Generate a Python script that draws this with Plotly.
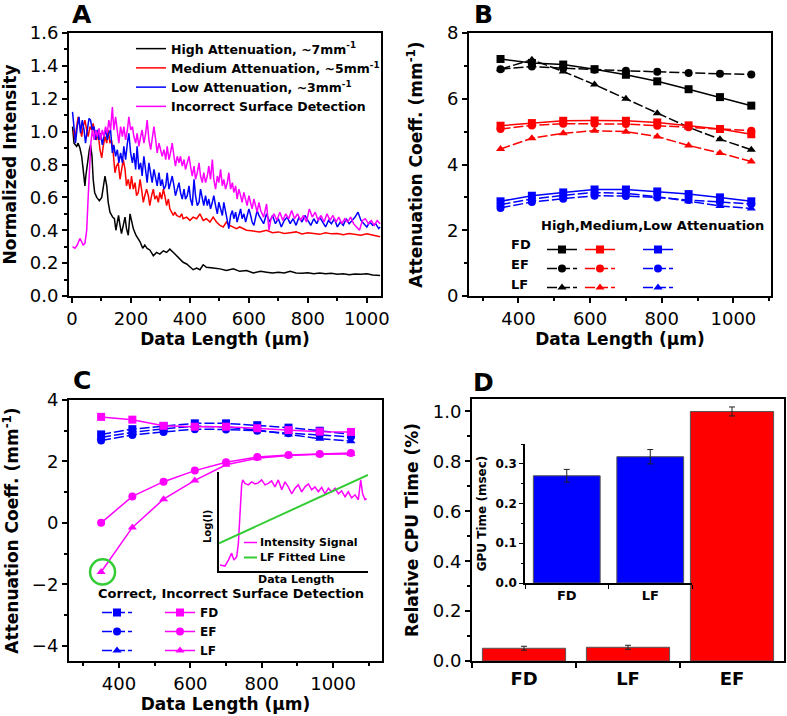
import plotly.graph_objects as go

FONT = "DejaVu Sans"
W, H = 787, 716

# ---------------- Panel A : normalized intensity profiles ----------------
a_high_x = [2, 7, 16, 21, 27, 33, 38, 44, 47, 52, 59, 63, 68, 72, 77, 84, 93, 101, 106, 112,
            118, 123, 129, 138, 144, 149, 154, 158, 163, 168, 174, 180, 185, 191, 197, 202, 208, 217, 225, 231,
            240, 247, 255, 264, 276, 287, 298, 310, 321, 332, 344, 355, 366, 377, 389, 400, 411, 423, 434, 445,
            456, 479, 502, 524, 547, 569, 592, 615, 640, 660, 680, 700, 720, 740, 760, 780, 800, 820,
            840, 860, 880, 900, 920, 940, 960, 980, 1000, 1020, 1045]
a_high_y = [1.03, 0.93, 0.91, 0.93, 0.90, 0.85, 0.77, 0.67, 0.73, 0.81, 0.89, 0.92, 0.85, 0.71, 0.63, 0.60, 0.58, 0.60, 0.65, 0.73,
            0.67, 0.57, 0.51, 0.48, 0.47, 0.40, 0.45, 0.49, 0.43, 0.38, 0.43, 0.48, 0.41, 0.37, 0.50, 0.46, 0.41, 0.37, 0.35, 0.33,
            0.29, 0.31, 0.29, 0.28, 0.245, 0.265, 0.255, 0.275, 0.265, 0.285, 0.265, 0.245, 0.225, 0.205, 0.195, 0.18, 0.16, 0.17, 0.16, 0.19,
            0.175, 0.17, 0.165, 0.155, 0.165, 0.15, 0.155, 0.14, 0.15, 0.145, 0.14, 0.145, 0.14, 0.15, 0.14, 0.138, 0.142, 0.136,
            0.14, 0.135, 0.138, 0.132, 0.136, 0.13, 0.134, 0.132, 0.135, 0.128, 0.125]

a_med_x = [5, 10, 16, 21, 27, 33, 38, 44, 50, 55, 61, 67, 72, 78, 84, 89, 95, 101, 106, 112,
           118, 123, 129, 134, 140, 146, 151, 157, 163, 168, 174, 180, 185, 191, 197, 202, 208, 214, 219, 225,
           231, 236, 242, 247, 253, 259, 264, 270, 276, 281, 287, 293, 298, 304, 310, 315, 321, 327, 332, 338,
           344, 349, 355, 366, 372, 377, 389, 400, 411, 423, 434, 445, 456, 468, 479, 490, 502, 513, 524, 535,
           547, 558, 569, 592, 615, 637, 660, 680, 700, 720, 740, 760, 780, 800, 820, 840, 860, 880, 900, 920,
           940, 960, 980, 1000, 1020, 1045]
a_med_y = [1.01, 0.95, 1.03, 1.09, 1.03, 0.97, 1.03, 1.07, 1.01, 0.97, 1.03, 1.01, 1.05, 0.97, 0.95, 0.99, 0.89, 0.84, 0.91, 0.97,
           0.93, 1.01, 0.93, 0.95, 0.87, 0.75, 0.79, 0.81, 0.71, 0.77, 0.83, 0.77, 0.67, 0.71, 0.65, 0.73, 0.65, 0.69, 0.61, 0.63,
           0.71, 0.65, 0.57, 0.61, 0.65, 0.61, 0.55, 0.61, 0.65, 0.59, 0.61, 0.57, 0.63, 0.59, 0.65, 0.61, 0.55, 0.59, 0.53, 0.51,
           0.49, 0.51, 0.49, 0.48, 0.50, 0.47, 0.48, 0.46, 0.48, 0.47, 0.50, 0.46, 0.47, 0.45, 0.48, 0.45, 0.43, 0.42, 0.45, 0.43,
           0.42, 0.41, 0.42, 0.40, 0.395, 0.39, 0.40, 0.385, 0.39, 0.38, 0.385, 0.39, 0.378, 0.385, 0.38, 0.375, 0.385, 0.378, 0.38, 0.372,
           0.38, 0.375, 0.37, 0.378, 0.368, 0.36]

a_low_x = [2, 7, 12, 18, 24, 29, 35, 41, 46, 52, 58, 63, 69, 75, 80, 86, 92, 97, 103, 108,
           114, 120, 125, 131, 137, 142, 148, 154, 159, 165, 171, 176, 182, 188, 193, 199, 205, 210, 216, 221,
           227, 233, 238, 244, 250, 255, 261, 267, 272, 278, 284, 289, 295, 301, 306, 312, 318, 323, 329, 334,
           340, 346, 351, 357, 363, 368, 374, 380, 385, 391, 397, 402, 408, 414, 419, 425, 431, 436, 442, 447,
           453, 459, 464, 470, 476, 481, 487, 493, 498, 504, 510, 515, 521, 527, 532, 538, 544, 549, 555, 560,
           566, 572, 577, 583, 589, 594, 600, 606, 611, 617, 623, 628, 634,
           640, 650, 660, 670, 680, 690, 700, 710, 720, 730, 740, 750, 760, 770, 780, 790, 800, 810, 820, 830,
           840, 850, 860, 870, 880, 890, 900, 910, 920, 930, 940, 950, 960, 970, 980, 990, 1000, 1010, 1020, 1030,
           1040, 1045]
a_low_y = [1.12, 1.03, 0.93, 1.03, 1.09, 0.99, 1.07, 1.01, 0.93, 1.01, 1.08, 1.07, 1.01, 1.03, 0.95, 1.01, 0.95, 0.99, 0.92, 0.97,
           1.01, 0.95, 0.99, 1.01, 0.87, 0.92, 0.85, 0.89, 0.81, 0.87, 0.81, 0.91, 0.83, 0.93, 0.99, 0.87, 0.81, 0.87, 0.77, 0.91,
           0.77, 0.81, 0.73, 0.85, 0.75, 0.69, 0.81, 0.73, 0.69, 0.77, 0.71, 0.67, 0.75, 0.67, 0.71, 0.65, 0.67, 0.75, 0.65, 0.69,
           0.73, 0.67, 0.61, 0.65, 0.69, 0.63, 0.59, 0.65, 0.59, 0.61, 0.67, 0.59, 0.55, 0.71, 0.61, 0.55, 0.57, 0.65, 0.59, 0.55,
           0.61, 0.55, 0.59, 0.53, 0.57, 0.61, 0.55, 0.50, 0.57, 0.53, 0.49, 0.57, 0.52, 0.47, 0.41, 0.49, 0.52, 0.47, 0.51, 0.45,
           0.49, 0.53, 0.47, 0.50, 0.45, 0.49, 0.53, 0.49, 0.45, 0.43, 0.49, 0.52, 0.49,
           0.47, 0.44, 0.50, 0.45, 0.49, 0.44, 0.47, 0.42, 0.46, 0.48, 0.44, 0.47, 0.43, 0.48, 0.45, 0.49, 0.46, 0.43, 0.47, 0.44,
           0.48, 0.45, 0.42, 0.46, 0.44, 0.47, 0.42, 0.45, 0.43, 0.47, 0.44, 0.46, 0.48, 0.51, 0.46, 0.44, 0.42, 0.45, 0.43, 0.44,
           0.41, 0.42]

a_bad_x = [2, 10, 18, 27, 33, 38, 44, 50, 55, 61, 64, 69,
           75, 80, 86, 92, 97, 103, 108, 114, 120, 125, 131, 137, 142, 148, 154, 159, 165, 171, 176, 182,
           188, 193, 199, 205, 210, 216, 221, 227, 233, 238, 244, 250, 255, 261, 267, 272, 278, 284, 289, 295,
           301, 306, 312, 318, 323, 329, 334, 340, 346, 351, 357, 363, 368, 374, 380, 385, 391, 397, 402, 408,
           414, 419, 425, 431, 436, 442, 447, 453, 459, 464, 470, 476, 481, 487, 493, 498, 504, 510, 515, 521,
           527, 532, 538, 544, 549, 555, 560, 566, 572, 577, 583, 589, 594, 600, 606, 611, 617, 623, 628, 634,
           640, 650, 660, 668, 675, 685, 695, 705, 715, 725, 735, 745, 755, 765, 775, 785, 795, 805, 815, 825,
           835, 845, 855, 865, 875, 885, 895, 905, 915, 925, 935, 945, 955, 965, 975, 985, 995, 1005, 1015, 1025,
           1035, 1045]
a_bad_y = [0.30, 0.29, 0.31, 0.35, 0.33, 0.31, 0.32, 0.40, 0.60, 0.81, 0.93, 1.01,
           0.95, 1.01, 0.97, 1.02, 0.95, 1.01, 0.97, 1.03, 0.99, 1.07, 1.01, 1.15, 1.01, 1.09, 1.01, 0.93, 1.03, 0.97, 1.03, 0.95,
           1.01, 1.09, 1.01, 1.03, 0.97, 0.93, 0.99, 0.91, 0.97, 1.01, 0.93, 0.99, 1.07, 0.95, 0.89, 0.95, 1.03, 0.95, 0.87, 0.93,
           0.89, 0.85, 0.89, 0.83, 0.91, 0.83, 0.87, 0.93, 0.85, 0.79, 0.85, 0.81, 0.85, 0.79, 0.83, 0.77, 0.81, 0.85, 0.79, 0.73,
           0.79, 0.71, 0.75, 0.81, 0.73, 0.69, 0.75, 0.69, 0.73, 0.79, 0.71, 0.83, 0.71, 0.65, 0.73, 0.69, 0.77, 0.67, 0.71, 0.65,
           0.69, 0.75, 0.65, 0.69, 0.63, 0.67, 0.59, 0.65, 0.61, 0.57, 0.63, 0.59, 0.55, 0.61, 0.57, 0.53, 0.59, 0.55, 0.51, 0.57,
           0.52, 0.48, 0.56, 0.40, 0.47, 0.50, 0.46, 0.51, 0.46, 0.50, 0.47, 0.52, 0.47, 0.50, 0.46, 0.49, 0.45, 0.53, 0.48, 0.51,
           0.46, 0.49, 0.45, 0.50, 0.46, 0.49, 0.45, 0.48, 0.44, 0.47, 0.45, 0.48, 0.44, 0.42, 0.40, 0.46, 0.47, 0.44, 0.46, 0.43,
           0.46, 0.44]

# ---------------- Panels B & C : attenuation coefficients ----------------
data_len = [350, 437.5, 525, 612.5, 700, 787.5, 875, 962.5, 1050]
high_fd = [7.21, 7.09, 7.04, 6.90, 6.73, 6.53, 6.29, 6.05, 5.79]
high_ef = [6.90, 6.98, 6.93, 6.88, 6.85, 6.82, 6.78, 6.76, 6.74]
high_lf = [6.90, 7.19, 6.83, 6.43, 6.00, 5.56, 5.13, 4.77, 4.45]
med_fd = [5.18, 5.26, 5.33, 5.34, 5.33, 5.28, 5.19, 5.08, 4.92]
med_ef = [5.08, 5.19, 5.24, 5.24, 5.23, 5.18, 5.13, 5.08, 5.03]
med_lf = [4.47, 4.80, 4.95, 5.03, 5.00, 4.85, 4.58, 4.35, 4.09]
low_fd = [2.88, 3.05, 3.15, 3.24, 3.24, 3.18, 3.10, 3.00, 2.88]
low_ef = [2.68, 2.86, 2.96, 3.05, 3.04, 3.00, 2.92, 2.85, 2.80]
low_lf = [2.78, 2.95, 3.06, 3.15, 3.12, 3.02, 2.88, 2.74, 2.66]
bad_fd = [3.45, 3.36, 3.16, 3.13, 3.13, 3.08, 3.02, 2.97, 2.96]
bad_ef = [0.00, 0.86, 1.34, 1.70, 1.97, 2.14, 2.21, 2.24, 2.27]
bad_lf = [-1.60, -0.15, 0.77, 1.38, 1.89, 2.10, 2.19, 2.23, 2.24]

# inset of C (arbitrary units)
sig_x = [0.7, 4, 6.3, 8.5, 10, 11.9, 13, 15.2, 15.9, 17.4, 19.7, 21.9, 24.2, 26.4, 28.6, 30.9, 33.1, 35.3, 37.6, 39.8,
         42.1, 44.3, 46.5, 48.8, 51, 53.2, 55.5, 57.7, 60, 62.2, 64.4, 66.7, 68.9, 71.1, 73.4, 75.6, 77.9, 80.1, 82.3, 84.6,
         86.8, 89, 91.3, 93.5, 95.1, 96.4, 98, 99.1]
sig_y = [6, 5, 11, 18, 11, 14.5, 28, 87, 92, 88.5, 87, 90, 88, 89, 92, 87, 88.5, 91, 85, 92,
         82, 90, 85, 78, 83.5, 87, 80, 85, 88, 82, 85, 80, 84.5, 78, 83.5, 80, 83.5, 78, 81, 75,
         80, 74, 77, 72, 92, 78, 72, 73]
fit_x = [0, 100]
fit_y = [28, 97]

# ---------------- Panel D : computation time ----------------
cpu_methods = ["FD", "LF", "EF"]
cpu_time = [0.051, 0.055, 1.0]
cpu_err = [0.008, 0.008, 0.018]
gpu_methods = ["FD", "LF"]
gpu_time = [0.270, 0.318]
gpu_err = [0.016, 0.018]

BLACK, RED, BLUE, MAG, GREEN = "#000000", "#FF0000", "#0000FF", "#FF00FF", "#33CC33"
DASH = "10px,3px"


def px(x):
    return x / W


def py(y):
    return 1 - y / H


fig = go.Figure()

# Panel A traces
for xs, ys, col, name in [
    (a_high_x, a_high_y, BLACK, "High Attenuation, ~7mm<sup>-1</sup>"),
    (a_med_x, a_med_y, RED, "Medium Attenuation, ~5mm<sup>-1</sup>"),
    (a_low_x, a_low_y, BLUE, "Low Attenuation, ~3mm<sup>-1</sup>"),
    (a_bad_x, a_bad_y, MAG, "Incorrect Surface Detection"),
]:
    assert len(xs) == len(ys), name
    fig.add_trace(go.Scatter(x=xs, y=ys, mode="lines", name=name, line=dict(color=col, width=1.5),
                             xaxis="x", yaxis="y", legend="legend"))

# Panel B traces
sym = {"FD": "square", "EF": "circle", "LF": "triangle-up"}
b_sets = [
    (BLACK, "legend2", [("FD", high_fd, "solid"), ("EF", high_ef, DASH), ("LF", high_lf, DASH)]),
    (RED, "legend3", [("FD", med_fd, "solid"), ("EF", med_ef, DASH), ("LF", med_lf, DASH)]),
    (BLUE, "legend4", [("FD", low_fd, "solid"), ("EF", low_ef, DASH), ("LF", low_lf, DASH)]),
]
for col, leg, rows in b_sets:
    for m, ys, dash in rows:
        fig.add_trace(go.Scatter(x=data_len, y=ys, mode="lines+markers", name="",
                                 line=dict(color=col, width=1.5, dash=dash),
                                 marker=dict(symbol=sym[m], size=8, color=col),
                                 xaxis="x2", yaxis="y2", legend=leg))

# Panel C traces
for m, ys in [("FD", low_fd), ("EF", low_ef), ("LF", low_lf)]:
    fig.add_trace(go.Scatter(x=data_len, y=ys, mode="lines+markers", name="",
                             line=dict(color=BLUE, width=1.5, dash=DASH),
                             marker=dict(symbol=sym[m], size=8, color=BLUE),
                             xaxis="x3", yaxis="y3", legend="legend5"))
for m, ys in [("FD", bad_fd), ("EF", bad_ef), ("LF", bad_lf)]:
    fig.add_trace(go.Scatter(x=data_len, y=ys, mode="lines+markers", name=m,
                             line=dict(color=MAG, width=1.5),
                             marker=dict(symbol=sym[m], size=8, color=MAG),
                             xaxis="x3", yaxis="y3", legend="legend6"))

# inset of C
fig.add_trace(go.Scatter(x=sig_x, y=sig_y, mode="lines", line=dict(color=MAG, width=1.5),
                         xaxis="x5", yaxis="y5", showlegend=False))
fig.add_trace(go.Scatter(x=fit_x, y=fit_y, mode="lines", line=dict(color=GREEN, width=2),
                         xaxis="x5", yaxis="y5", showlegend=False))

# Panel D
fig.add_trace(go.Bar(x=cpu_methods, y=cpu_time, width=0.8,
                     marker=dict(color=RED, line=dict(color="#555555", width=1)),
                     error_y=dict(type="data", array=cpu_err, color="#222222", thickness=1, width=3),
                     xaxis="x4", yaxis="y4", showlegend=False))
fig.add_trace(go.Bar(x=gpu_methods, y=gpu_time, width=0.8,
                     marker=dict(color=BLUE, line=dict(color="#555555", width=1)),
                     error_y=dict(type="data", array=gpu_err, color="#222222", thickness=1, width=3),
                     xaxis="x6", yaxis="y6", showlegend=False))

tickfont = dict(family=FONT, size=18, color="black")
titlefont = dict(family=FONT, size=17, color="black", weight="bold")
minor_base = dict(ticks="outside", ticklen=3, tickwidth=1.5, tickcolor="black", showgrid=False)


def frame(domain, anchor, title, standoff, rng, dtick, mdtick, **kw):
    d = dict(domain=domain, anchor=anchor, range=rng, dtick=dtick, tick0=0,
             showline=True, linewidth=2, linecolor="black", mirror=True,
             ticks="outside", ticklen=5, tickwidth=1.5, tickcolor="black",
             showgrid=False, zeroline=False, automargin=False, tickfont=tickfont,
             title=dict(text=title, font=titlefont, standoff=standoff))
    if mdtick:
        d["minor"] = dict(minor_base, dtick=mdtick)
    d.update(kw)
    return d


xlab = "Data Length (\u03bcm)"
att = "Attenuation Coeff. (mm<sup>-1</sup>)"

layout = dict(
    width=W, height=H, margin=dict(l=0, r=0, t=0, b=0),
    paper_bgcolor="white", plot_bgcolor="rgba(0,0,0,0)",
    font=dict(family=FONT, color="black"),
    showlegend=True,
    xaxis=frame([px(69), px(381)], "y", xlab, 3, [-10, 1048], 200, 100),
    yaxis=frame([py(296), py(33)], "x", "Normalized Intensity", 10, [0, 1.6], 0.2, 0.1, tickformat=".1f"),
    xaxis2=frame([px(469), px(771)], "y2", xlab, 3, [262, 1105], 200, 100),
    yaxis2=frame([py(296), py(33)], "x2", att, 20, [0, 8], 2, 1),
    xaxis3=frame([px(69), px(382)], "y3", xlab, 6, [260, 1137], 200, 100),
    yaxis3=frame([py(661), py(400)], "x3", att, 10, [-4.5, 4], 2, 1),
    xaxis4=dict(domain=[px(472), px(784)], anchor="y4", range=[-0.5, 2.5], type="category",
                showline=True, linewidth=2, linecolor="black", mirror=True,
                ticks="outside", ticklen=5, tickwidth=1.5, tickcolor="black", tickson="boundaries",
                showgrid=False, zeroline=False, automargin=False,
                tickfont=dict(family=FONT, size=18, color="black", weight="bold")),
    yaxis4=frame([py(661), py(399)], "x4", "Relative CPU Time (%)", 10, [0, 1.05], 0.2, 0.1, tickformat=".1f"),
    xaxis5=dict(domain=[px(219), px(368)], anchor="y5", range=[0, 100], showline=True, linewidth=1.5,
                linecolor="black", mirror=False, ticks="", showticklabels=False, showgrid=False,
                zeroline=False, automargin=False),
    yaxis5=dict(domain=[py(571), py(472)], anchor="x5", range=[0, 100], showline=True, linewidth=1.5,
                linecolor="black", mirror=False, ticks="", showticklabels=False, showgrid=False,
                zeroline=False, automargin=False),
    xaxis6=dict(domain=[px(525), px(692)], anchor="y6", range=[-0.5, 1.5], type="category",
                showline=True, linewidth=1.5, linecolor="black", mirror=False,
                ticks="outside", ticklen=4, tickwidth=1, tickcolor="black", tickson="boundaries",
                showgrid=False, zeroline=False, automargin=False,
                tickfont=dict(family=FONT, size=13, color="black", weight="bold")),
    yaxis6=dict(domain=[py(583), py(444)], anchor="x6", range=[0, 0.35], dtick=0.1, tick0=0, tickformat=".1f",
                showline=True, linewidth=1.5, linecolor="black", mirror=False,
                ticks="outside", ticklen=4, tickwidth=1, tickcolor="black",
                minor=dict(ticks="outside", ticklen=2, tickwidth=1, tickcolor="black", dtick=0.05, showgrid=False),
                showgrid=False, zeroline=False, automargin=False,
                tickfont=dict(family=FONT, size=12, color="black", weight="bold"),
                title=dict(text="GPU Time (msec)", font=dict(family=FONT, size=12, weight="bold"), standoff=6)),
)

legfont = dict(family=FONT, size=13, color="black", weight="bold")
leg_common = dict(bgcolor="rgba(0,0,0,0)", borderwidth=0, xanchor="left", yanchor="top",
                  font=legfont, tracegroupgap=0, itemclick=False, itemdoubleclick=False)
layout["legend"] = dict(leg_common, x=px(131), y=py(34), font=dict(legfont, size=12.5))
layout["legend2"] = dict(leg_common, x=px(542), y=py(235), font=dict(legfont, size=12))
layout["legend3"] = dict(leg_common, x=px(580), y=py(235), font=dict(legfont, size=12))
layout["legend4"] = dict(leg_common, x=px(638), y=py(235), font=dict(legfont, size=12))
layout["legend5"] = dict(leg_common, x=px(97), y=py(598), font=dict(legfont, size=12))
layout["legend6"] = dict(leg_common, x=px(160), y=py(598), font=dict(legfont, size=12))

fig.update_layout(**layout)

# panel letters and legend labels
ann = []
for letter, x, y in [("A", 82, 15), ("B", 483, 15), ("C", 82, 381), ("D", 483, 382)]:
    ann.append(dict(text=letter, x=px(x), y=py(y), xref="paper", yref="paper", showarrow=False,
                    xanchor="center", yanchor="middle", font=dict(family=FONT, size=25, weight="bold", color="black")))
lab = dict(family=FONT, size=13, weight="bold", color="black")
ann.append(dict(text="High,Medium,Low Attenuation", x=px(539), y=py(225), xref="paper", yref="paper",
                showarrow=False, xanchor="left", yanchor="middle", font=lab))
for t, y in [("FD", 245), ("EF", 264.5), ("LF", 284)]:
    ann.append(dict(text=t, x=px(509), y=py(y), xref="paper", yref="paper", showarrow=False,
                    xanchor="left", yanchor="middle", font=lab))
ann.append(dict(text="Correct, Incorrect Surface Detection", x=px(96), y=py(593), xref="paper", yref="paper",
                showarrow=False, xanchor="left", yanchor="middle", font=lab))
small = dict(family=FONT, size=11, weight="bold", color="black")
ann.append(dict(text="Intensity Signal", x=px(258), y=py(542), xref="paper", yref="paper", showarrow=False,
                xanchor="left", yanchor="middle", font=small))
ann.append(dict(text="LF Fitted Line", x=px(258), y=py(557), xref="paper", yref="paper", showarrow=False,
                xanchor="left", yanchor="middle", font=small))
ann.append(dict(text="Data Length", x=px(296), y=py(579), xref="paper", yref="paper", showarrow=False,
                xanchor="center", yanchor="middle", font=small))
ann.append(dict(text="Log(I)", x=px(207), y=py(527), xref="paper", yref="paper", showarrow=False,
                xanchor="center", yanchor="middle", textangle=-90,
                font=dict(family=FONT, size=10, weight="bold", color="black")))
fig.update_layout(annotations=ann)

shapes = [
    dict(type="line", xref="paper", yref="paper", x0=px(244), x1=px(257), y0=py(542.5), y1=py(542.5),
         line=dict(color=MAG, width=1.5)),
    dict(type="line", xref="paper", yref="paper", x0=px(244), x1=px(257), y0=py(557.5), y1=py(557.5),
         line=dict(color=GREEN, width=2)),
    dict(type="circle", xref="x3", yref="y3", x0=data_len[0] + 4 - 35, x1=data_len[0] + 4 + 35,
         y0=bad_lf[0] - 0.41, y1=bad_lf[0] + 0.41, line=dict(color=GREEN, width=2.5)),
]
fig.update_layout(shapes=shapes)

fig.write_html("out.html", config={"displayModeBar": False},
               post_script="document.body.style.margin='0px';")
